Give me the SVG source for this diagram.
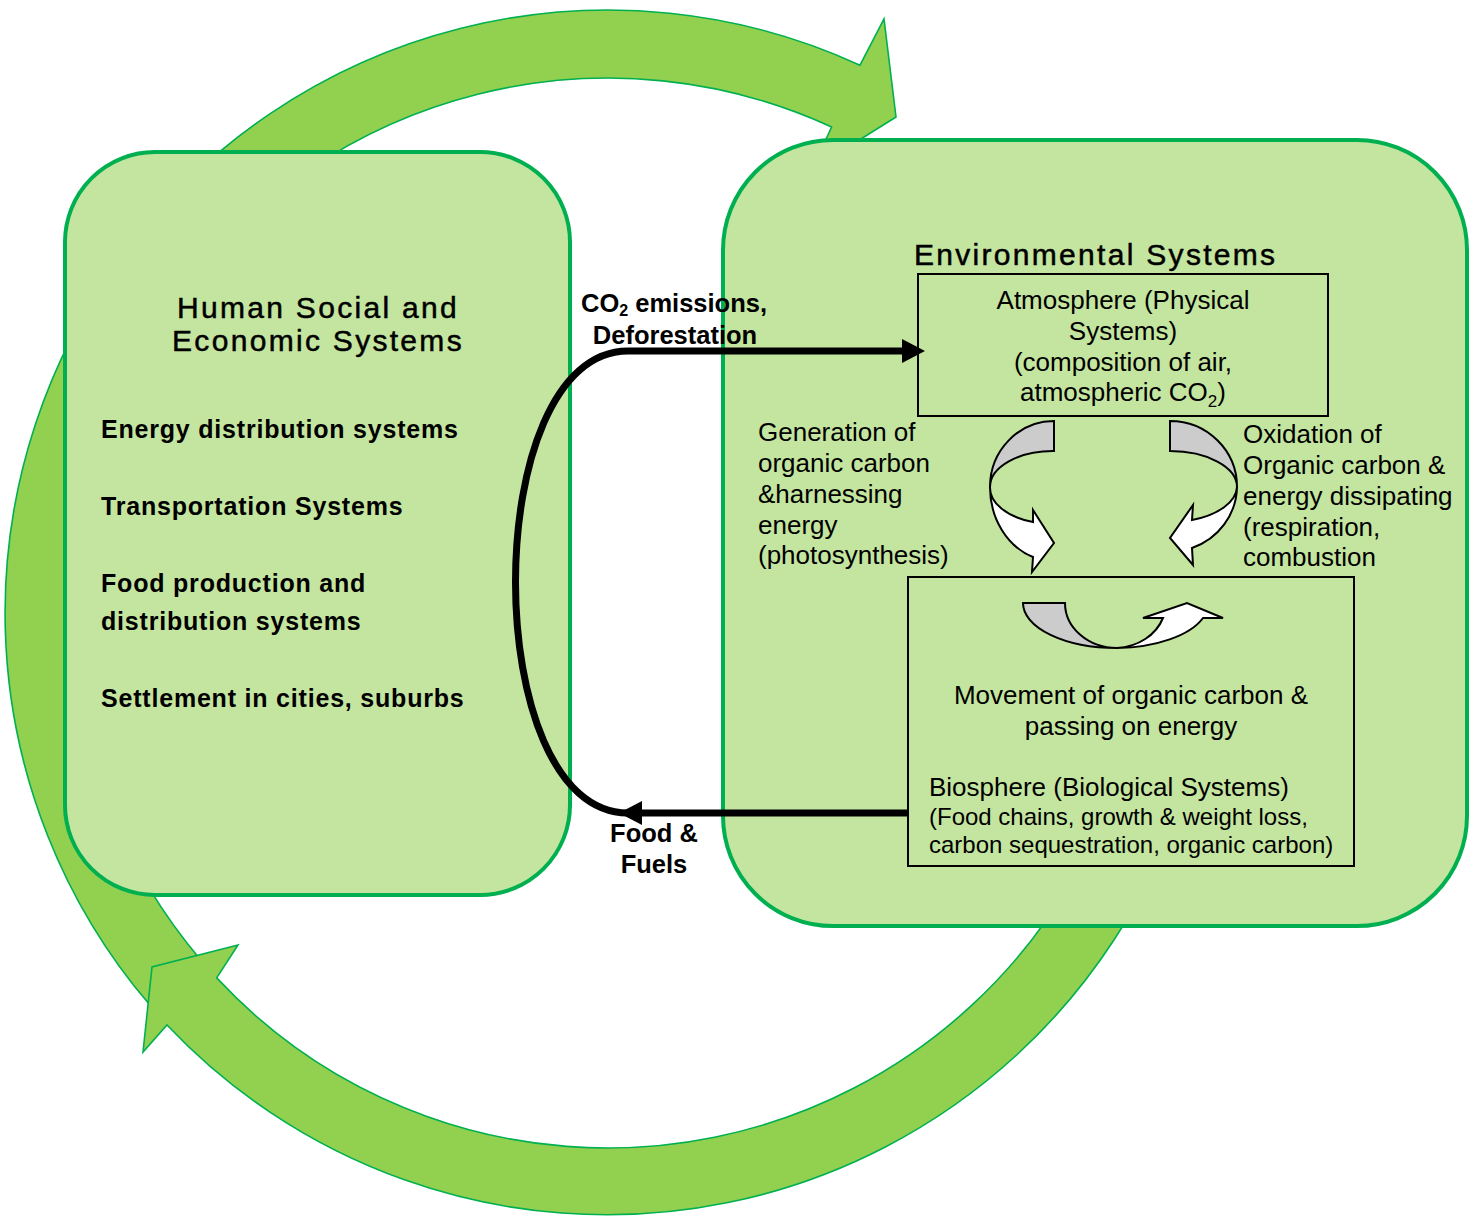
<svg xmlns="http://www.w3.org/2000/svg" width="1479" height="1221" viewBox="0 0 1479 1221">
  <defs>
    <style>
      .ring { fill: #92D050; stroke: #00B050; stroke-width: 1.6; stroke-linejoin: miter; }
      .panel { fill: #C4E59F; stroke: #00B050; stroke-width: 4; }
      .box { fill: none; stroke: #000; stroke-width: 2; }
      .back { fill: #CCCCCC; stroke: #000; stroke-width: 2; stroke-linejoin: miter; }
      .front { fill: #FFFFFF; stroke: #000; stroke-width: 2; stroke-linejoin: miter; }
      .flow { fill: none; stroke: #000; stroke-width: 7; }
      .title { font-family: "Liberation Sans", Arial, sans-serif; font-size: 30px; letter-spacing: 2.3px; fill: #000; stroke: #000; stroke-width: 0.5px; }
      .item { font-family: "Liberation Sans", Arial, sans-serif; font-size: 25px; font-weight: bold; letter-spacing: 0.8px; fill: #000; }
      .body { font-family: "Liberation Sans", Arial, sans-serif; font-size: 26px; fill: #000; }
      .small { font-family: "Liberation Sans", Arial, sans-serif; font-size: 24px; fill: #000; }
      .flowlabel { font-family: "Liberation Sans", Arial, sans-serif; font-size: 25.5px; font-weight: bold; fill: #000; }
    </style>
    <marker id="head" viewBox="0 0 23 24" refX="0" refY="12" markerWidth="23" markerHeight="24" markerUnits="userSpaceOnUse" orient="auto">
      <path d="M0,0 L23,12 L0,24 Z" fill="#000"/>
    </marker>
  </defs>

  <!-- Large cycle: two arcs around both systems (centre 608,613) -->
  <g id="cycle-arrows">
    <path id="cycle-upper" class="ring" d="M 201.2 960.4 L 149.5 1004.6 A 603 603 0 0 1 860 65.2 L 884 19 L 896 117 L 811.9 169.7 L 831.6 127 A 535 535 0 0 0 201.2 960.4 Z"/>
    <path id="cycle-lower" class="ring" d="M 1110.7 796 L 1174.6 819.2 A 605 605 0 0 1 167 1025 L 143 1052 L 152 967 L 238 945 L 216.7 977.9 A 535 535 0 0 0 1110.7 796 Z"/>
  </g>

  <!-- Human social and economic systems -->
  <g id="human-systems">
    <rect class="panel" x="65" y="152" width="505" height="743" rx="90" ry="90"/>
    <text class="title" x="318" y="318" text-anchor="middle">Human Social and</text>
    <text class="title" x="318" y="351" text-anchor="middle">Economic Systems</text>
    <text class="item" x="101" y="438">Energy distribution systems</text>
    <text class="item" x="101" y="515">Transportation Systems</text>
    <text class="item" x="101" y="592">Food production and</text>
    <text class="item" x="101" y="630">distribution systems</text>
    <text class="item" x="101" y="707">Settlement in cities, suburbs</text>
  </g>

  <!-- Environmental systems -->
  <g id="environmental-systems">
    <rect class="panel" x="723" y="140" width="744" height="786" rx="110" ry="110"/>
    <text class="title" x="914" y="265">Environmental Systems</text>
  </g>

  <g id="atmosphere">
    <rect class="box" x="918" y="274" width="410" height="142"/>
    <text class="body" x="1123" y="309" text-anchor="middle">Atmosphere (Physical</text>
    <text class="body" x="1123" y="340" text-anchor="middle">Systems)</text>
    <text class="body" x="1123" y="371" text-anchor="middle">(composition of air,</text>
    <text class="body" x="1123" y="401" text-anchor="middle">atmospheric CO<tspan font-size="17" dy="6">2</tspan><tspan dy="-6">)</tspan></text>
  </g>

  <g id="biosphere">
    <rect class="box" x="908" y="577" width="446" height="289"/>
    <text class="body" x="1131" y="704" text-anchor="middle">Movement of organic carbon &amp;</text>
    <text class="body" x="1131" y="735" text-anchor="middle">passing on energy</text>
    <text class="body" x="929" y="796">Biosphere (Biological Systems)</text>
    <text class="small" x="929" y="825">(Food chains, growth &amp; weight loss,</text>
    <text class="small" x="929" y="853">carbon sequestration, organic carbon)</text>
  </g>

  <!-- Ribbon arrows for the carbon exchange inside the environment -->
  <g id="photosynthesis-arrow">
    <path class="back" d="M 1054 421 L 1054 451 A 63 36 0 0 0 990 487 A 64 66 0 0 1 1054 421 Z"/>
    <path class="front" d="M 990 487 A 64 74 0 0 0 1033 557 L 1032 572 L 1054 543 L 1033 510 L 1033 522 A 63 36 0 0 1 990 487 Z"/>
  </g>
  <g id="respiration-arrow">
    <path class="back" d="M 1170 421 L 1170 451 A 67 36 0 0 1 1237 487 A 67 66 0 0 0 1170 421 Z"/>
    <path class="front" d="M 1237 487 A 67 66 0 0 1 1192 548 L 1193 565 L 1170 538 L 1193 505 L 1192 520 A 67 36 0 0 0 1237 487 Z"/>
  </g>
  <g id="food-chain-arrow">
    <path class="back" d="M 1023 603 L 1065 603 A 52 45 0 0 0 1117 648 A 94 45 0 0 1 1023 603 Z"/>
    <path class="front" d="M 1117 648 A 52 45 0 0 0 1163 618 L 1143 618 L 1187 603 L 1223 618 L 1203 618 A 94 45 0 0 1 1117 648 Z"/>
  </g>

  <g id="process-labels">
    <text class="body" x="758" y="441">Generation of</text>
    <text class="body" x="758" y="472">organic carbon</text>
    <text class="body" x="758" y="503">&amp;harnessing</text>
    <text class="body" x="758" y="534">energy</text>
    <text class="body" x="758" y="564">(photosynthesis)</text>
    <text class="body" x="1243" y="443">Oxidation of</text>
    <text class="body" x="1243" y="474">Organic carbon &amp;</text>
    <text class="body" x="1243" y="505">energy dissipating</text>
    <text class="body" x="1243" y="536">(respiration,</text>
    <text class="body" x="1243" y="566">combustion</text>
  </g>

  <!-- Exchanges between the two systems -->
  <g id="connectors">
    <path class="flow" d="M 908 813 L 642 813" marker-end="url(#head)"/>
    <path class="flow" d="M 628 813 C 478 813 478 351 628 351 L 902 351" marker-end="url(#head)"/>
    <text class="flowlabel" x="674" y="312" text-anchor="middle">CO<tspan font-size="16" dy="4">2</tspan><tspan dy="-4"> emissions,</tspan></text>
    <text class="flowlabel" x="675" y="344" text-anchor="middle">Deforestation</text>
    <text class="flowlabel" x="654" y="842" text-anchor="middle">Food &amp;</text>
    <text class="flowlabel" x="654" y="873" text-anchor="middle">Fuels</text>
  </g>
</svg>
